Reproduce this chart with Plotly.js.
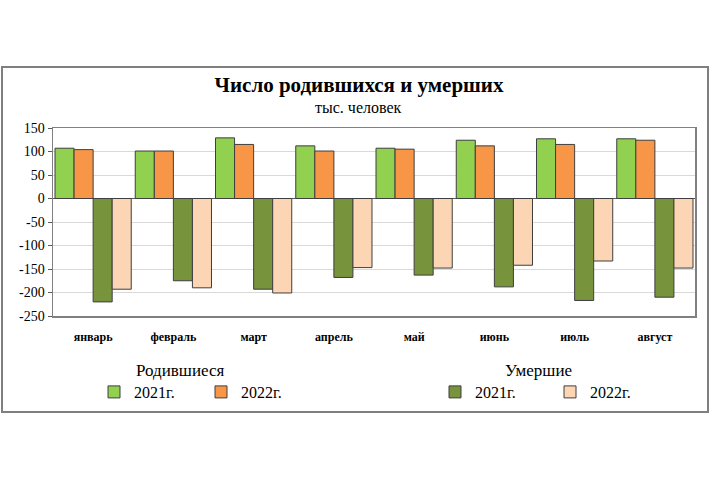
<!DOCTYPE html>
<html><head><meta charset="utf-8">
<script src="https://cdn.plot.ly/plotly-3.0.1.min.js"></script>
<style>html,body{margin:0;padding:0;background:#fff}#chart{width:720px;height:480px}</style>
</head><body><div id="chart"></div>
<script>
const months = ["январь","февраль","март","апрель","май","июнь","июль","август"];
const births2021 = [107, 101, 129, 112, 107, 124, 127, 127];
const births2022 = [104, 101, 115, 101, 105, 112, 115, 124];
const deaths2021 = [-220, -175, -193, -168, -163, -188, -217, -210];
const deaths2022 = [-193, -190, -201, -147, -148, -142, -133, -148];
const yTicks = [150, 100, 50, 0, -50, -100, -150, -200, -250];
const groupTitles = ["Родившиеся", "Умершие"];

const serif = "Liberation Serif, Times New Roman, serif";
const edge = {color: "#3f3f3f", width: 1};

const traces = [
  {type: "bar", x: months, y: births2021, name: "2021г.", legend: "legend",
   marker: {color: "#92D050", line: edge}},
  {type: "bar", x: months, y: births2022, name: "2022г.", legend: "legend",
   marker: {color: "#F79646", line: edge}},
  {type: "bar", x: months, y: deaths2021, name: "2021г.", legend: "legend2",
   marker: {color: "#77933C", line: edge}},
  {type: "bar", x: months, y: deaths2022, name: "2022г.", legend: "legend2",
   marker: {color: "#FCD5B5", line: edge}}
];

const W = 642, H = 188, L = 53, T = 128;
const px = v => (v - L) / W;
const py = v => (T + H - v) / H;

const legendCommon = {
  orientation: "h", xanchor: "center", yanchor: "middle",
  font: {family: serif, size: 16, color: "#000"},
  bgcolor: "rgba(0,0,0,0)", itemclick: false,
  tracegroupgap: 0
};
const legTitleFont = {family: serif, size: 17, color: "#000"};

const layout = {
  width: 720, height: 480,
  margin: {l: L, r: 720 - L - W, t: T, b: 480 - T - H, pad: 0},
  paper_bgcolor: "#fff", plot_bgcolor: "#fff",
  title: {text: "<b>Число родившихся и умерших</b>", x: 359 / 720, xanchor: "center",
          y: 1 - 85 / 480, yanchor: "middle", yref: "container", xref: "container",
          font: {family: serif, size: 21, color: "#000"}},
  barmode: "group", bargap: 0.05, bargroupgap: 0,
  xaxis: {type: "category", showgrid: false, showline: true, mirror: true,
          linecolor: "#808080", linewidth: 1.5, ticks: "",
          tickfont: {family: serif, size: 12, color: "#000", weight: "bold"},
          ticklabelstandoff: 9},
  yaxis: {range: [-250, 150], tickvals: yTicks, ticktext: yTicks.map(String),
          showgrid: true, gridcolor: "#d9d9d9", gridwidth: 1,
          zeroline: true, zerolinecolor: "#595959", zerolinewidth: 1.5,
          showline: true, mirror: true, linecolor: "#808080", linewidth: 1.5,
          ticks: "outside", ticklen: 4, tickcolor: "#595959",
          tickfont: {family: serif, size: 14, color: "#000"}},
  legend: Object.assign({}, legendCommon, {x: px(201), y: py(392), entrywidth: 62}),
  legend2: Object.assign({}, legendCommon, {x: px(550), y: py(392), entrywidth: 70}),
  annotations: [
    {text: "тыс. человек", xref: "paper", yref: "paper", x: px(358), y: py(107), xanchor: "center",
     yanchor: "middle", showarrow: false, font: {family: serif, size: 16, color: "#000"}},
    {text: groupTitles[0], xref: "paper", yref: "paper", x: px(180), y: py(370), xanchor: "center",
     yanchor: "middle", showarrow: false, font: legTitleFont},
    {text: groupTitles[1], xref: "paper", yref: "paper", x: px(538), y: py(370), xanchor: "center",
     yanchor: "middle", showarrow: false, font: legTitleFont}
  ],
  shapes: [
    {type: "rect", xref: "paper", yref: "paper", x0: px(2), x1: px(708), y0: py(412), y1: py(67),
     line: {color: "#7f7f7f", width: 2}, fillcolor: "rgba(0,0,0,0)", layer: "below"}
  ],
  showlegend: true
};

Plotly.newPlot("chart", traces, layout, {displayModeBar: false, staticPlot: true});
</script></body></html>
